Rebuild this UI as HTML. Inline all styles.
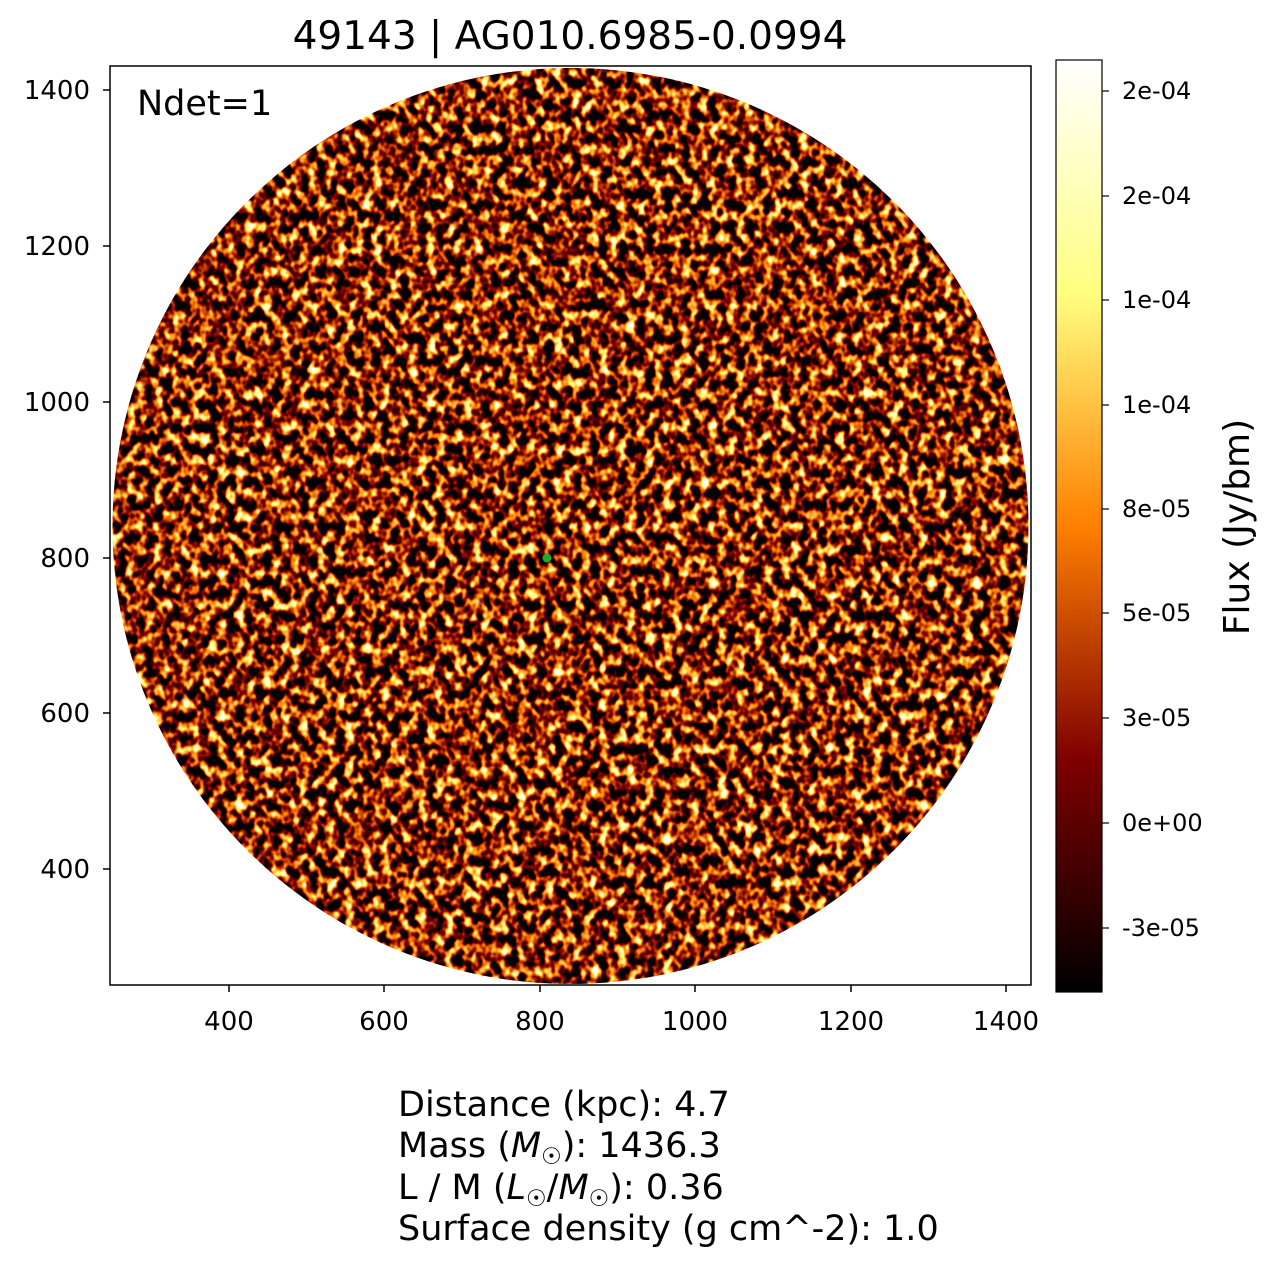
<!DOCTYPE html>
<html><head><meta charset="utf-8"><style>
body{margin:0;background:#fff;}
svg{display:block;font-family:"DejaVu Sans","Liberation Sans",sans-serif;}
</style></head><body>
<svg width="1274" height="1267" viewBox="0 0 1274 1267" xmlns="http://www.w3.org/2000/svg">
<defs>
<filter id="n" x="0" y="0" width="100%" height="100%" filterUnits="userSpaceOnUse" color-interpolation-filters="sRGB">
<feTurbulence type="fractalNoise" baseFrequency="0.11 0.09" numOctaves="2" seed="7" result="t"/>
<feColorMatrix in="t" type="matrix" values="1 0 0 0 0  1 0 0 0 0  1 0 0 0 0  0 0 0 0 1"/>
<feComponentTransfer>
<feFuncR type="linear" slope="4.5" intercept="-1.7"/>
<feFuncG type="linear" slope="4.5" intercept="-2.2"/>
<feFuncB type="linear" slope="4.5" intercept="-2.7"/>
<feFuncA type="linear" slope="0" intercept="1"/>
</feComponentTransfer>
</filter>
<clipPath id="c"><circle cx="570.5" cy="526" r="458"/></clipPath>
<linearGradient id="cb" x1="0" y1="1" x2="0" y2="0">
<stop offset="0" stop-color="#000"/>
<stop offset="0.25" stop-color="#7f0000"/>
<stop offset="0.5" stop-color="#ff8000"/>
<stop offset="0.75" stop-color="#ffff80"/>
<stop offset="1" stop-color="#fff"/>
</linearGradient>
</defs>
<text x="570" y="49" font-size="39" text-anchor="middle">49143 | AG010.6985-0.0994</text>
<g clip-path="url(#c)"><rect x="100" y="60" width="940" height="940" filter="url(#n)"/></g>
<circle cx="547" cy="558" r="4.5" fill="#22aa22"/>
<rect x="110" y="66" width="921" height="919" fill="none" stroke="#000" stroke-width="1.5"/>
<text x="137" y="115" font-size="35">Ndet=1</text>
<g font-size="26" text-anchor="middle">
<g stroke="#000" stroke-width="1.5">
<line x1="229" y1="985" x2="229" y2="992"/><line x1="384" y1="985" x2="384" y2="992"/><line x1="540" y1="985" x2="540" y2="992"/><line x1="695" y1="985" x2="695" y2="992"/><line x1="851" y1="985" x2="851" y2="992"/><line x1="1006" y1="985" x2="1006" y2="992"/>
<line x1="103" y1="90" x2="110" y2="90"/><line x1="103" y1="246" x2="110" y2="246"/><line x1="103" y1="402" x2="110" y2="402"/><line x1="103" y1="558" x2="110" y2="558"/><line x1="103" y1="713" x2="110" y2="713"/><line x1="103" y1="869" x2="110" y2="869"/>
</g>
<text x="229" y="1030">400</text><text x="384" y="1030">600</text><text x="540" y="1030">800</text><text x="695" y="1030">1000</text><text x="851" y="1030">1200</text><text x="1006" y="1030">1400</text>
</g>
<g font-size="26" text-anchor="end">
<text x="90" y="99">1400</text><text x="90" y="255">1200</text><text x="90" y="411">1000</text><text x="90" y="567">800</text><text x="90" y="722">600</text><text x="90" y="878">400</text>
</g>
<rect x="1056" y="60" width="46" height="932" fill="url(#cb)" stroke="#000" stroke-width="1.2"/>
<g stroke="#000" stroke-width="1.2">
<line x1="1102" y1="928" x2="1109" y2="928"/><line x1="1102" y1="823" x2="1109" y2="823"/><line x1="1102" y1="718" x2="1109" y2="718"/><line x1="1102" y1="613" x2="1109" y2="613"/><line x1="1102" y1="509" x2="1109" y2="509"/><line x1="1102" y1="405" x2="1109" y2="405"/><line x1="1102" y1="300" x2="1109" y2="300"/><line x1="1102" y1="196" x2="1109" y2="196"/><line x1="1102" y1="91" x2="1109" y2="91"/>
</g>
<g font-size="24">
<text x="1122" y="936">-3e-05</text><text x="1122" y="831">0e+00</text><text x="1122" y="726">3e-05</text><text x="1122" y="621">5e-05</text><text x="1122" y="517">8e-05</text><text x="1122" y="413">1e-04</text><text x="1122" y="308">1e-04</text><text x="1122" y="204">2e-04</text><text x="1122" y="99">2e-04</text>
</g>
<text transform="translate(1249,527) rotate(-90)" font-size="36" text-anchor="middle">Flux (Jy/bm)</text>
<g font-size="35">
<text x="398" y="1116">Distance (kpc): 4.7</text>
<text x="398" y="1157">Mass (<tspan font-style="italic">M</tspan><tspan font-size="23" dy="7">☉</tspan><tspan dy="-7">): 1436.3</tspan></text>
<text x="398" y="1199">L / M (<tspan font-style="italic">L</tspan><tspan font-size="23" dy="7">☉</tspan><tspan dy="-7">/</tspan><tspan font-style="italic">M</tspan><tspan font-size="23" dy="7">☉</tspan><tspan dy="-7">): 0.36</tspan></text>
<text x="398" y="1240">Surface density (g cm^-2): 1.0</text>
</g>
</svg>
</body></html>
